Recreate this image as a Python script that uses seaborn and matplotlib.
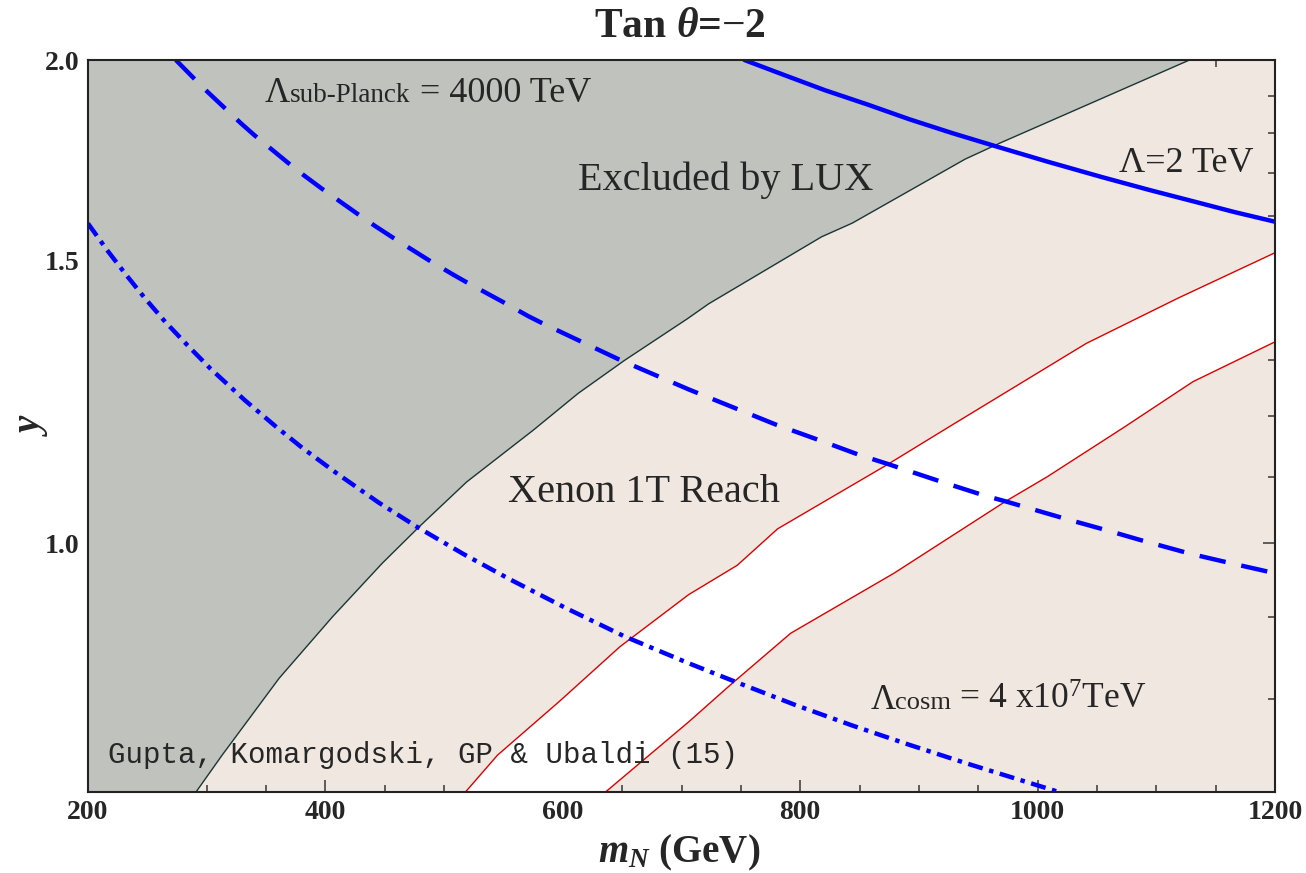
import numpy as np
import pandas as pd
import matplotlib
matplotlib.use("Agg")
import matplotlib.pyplot as plt
import seaborn as sns
from matplotlib.ticker import FixedLocator, NullFormatter, FixedFormatter, MultipleLocator
from matplotlib.offsetbox import TextArea, HPacker, AnnotationBbox

# ---------------- data ----------------
lux_m = [291, 313, 361, 406, 448, 479, 519, 575, 613, 652, 705, 723, 818, 844, 939, 968, 1128]
lux_y = [0.70, 0.738, 0.824, 0.90, 0.972, 1.024, 1.092, 1.176, 1.24, 1.30, 1.38, 1.41, 1.552, 1.583, 1.735, 1.775, 2.0]

xe_up_m = [518, 545, 597, 648, 706, 747, 781, 873, 928, 1041, 1118, 1200]
xe_up_y = [0.70, 0.738, 0.797, 0.862, 0.929, 0.969, 1.021, 1.119, 1.185, 1.332, 1.421, 1.517]

xe_lo_m = [636, 706, 741, 792, 879, 973, 1008, 1072, 1131, 1200]
xe_lo_y = [0.70, 0.774, 0.816, 0.879, 0.958, 1.062, 1.10, 1.18, 1.261, 1.335]

lam2_m = [753, 786, 821, 857, 892, 928, 965, 1008, 1054, 1094, 1134, 1166, 1200]
lam2_y = [2.0, 1.958, 1.915, 1.876, 1.837, 1.801, 1.767, 1.729, 1.691, 1.660, 1.631, 1.608, 1.586]

planck_m = [274, 297, 329, 340, 368, 381, 397, 427, 442, 457, 487, 507, 519, 550, 571, 582,
            615, 648, 681, 706, 779, 818, 850, 873, 921, 955, 973, 1025, 1060, 1086, 1129, 1165, 1200]
planck_y = [2.0, 1.922, 1.826, 1.796, 1.727, 1.697, 1.663, 1.604, 1.576, 1.550, 1.501, 1.471, 1.454,
            1.413, 1.385, 1.372, 1.336, 1.301, 1.270, 1.247, 1.186, 1.158, 1.135, 1.121, 1.091, 1.071,
            1.062, 1.035, 1.018, 1.005, 0.985, 0.971, 0.958]

cosm_m = [200, 216, 232, 248, 265, 284, 303, 332, 359, 381, 410, 445, 477, 516, 555, 603, 652,
          706, 747, 796, 844, 892, 941, 1018]
cosm_y = [1.582, 1.523, 1.470, 1.421, 1.374, 1.328, 1.285, 1.228, 1.181, 1.146, 1.105, 1.060, 1.024,
          0.985, 0.950, 0.911, 0.875, 0.842, 0.819, 0.793, 0.770, 0.749, 0.729, 0.70]

x_major = [200, 400, 600, 800, 1000, 1200]
y_major = [1.0, 1.5, 2.0]
y_major_labels = ["1.0", "1.5", "2.0"]
y_minor = [0.7, 0.8, 0.9, 1.1, 1.2, 1.3, 1.4, 1.6, 1.7, 1.8, 1.9]

# ---------------- style ----------------
sns.set_style("ticks")
plt.rcParams["font.family"] = ["Liberation Serif", "DejaVu Serif"]
plt.rcParams["mathtext.fontset"] = "custom"
plt.rcParams["mathtext.rm"] = "Liberation Serif"
plt.rcParams["mathtext.it"] = "Liberation Serif:italic:bold"
plt.rcParams["mathtext.bf"] = "Liberation Serif:bold"

GRAY = "#c0c2bd"
BEIGE = "#f0e7e1"
BLUE = "#0000ff"
RED = "#dd0000"
LUXC = "#1a3535"
SERIF = ["Liberation Serif", "DejaVu Serif"]

W, H = 1306, 873
fig = plt.figure(figsize=(W / 100, H / 100), dpi=100)
ax = fig.add_axes([88 / W, 1 - 792 / H, (1275 - 88) / W, (792 - 60) / H])
ax.set_facecolor(BEIGE)
ax.set_yscale("log")
ax.set_xlim(200, 1200)
ax.set_ylim(0.7, 2.0)

# gray LUX excluded region
ax.fill([200] + lux_m + [200], [0.7] + lux_y + [2.0], color=GRAY, lw=0, zorder=1)
# white band between the Xenon lines
ax.fill(xe_up_m + xe_lo_m[::-1], xe_up_y + xe_lo_y[::-1], color="white", lw=0, zorder=1)

def line(mx, yy, **kw):
    df = pd.DataFrame({"m": mx, "y": yy})
    n0 = len(ax.lines)
    sns.lineplot(data=df, x="m", y="y", ax=ax, sort=False, estimator=None, **kw)
    return ax.lines[n0]

line(lux_m, lux_y, color=LUXC, lw=1.0, zorder=2)
line(xe_up_m, xe_up_y, color=RED, lw=1.0, zorder=2)
line(xe_lo_m, xe_lo_y, color=RED, lw=1.0, zorder=2)
l = line(lam2_m, lam2_y, color=BLUE, lw=3.2, zorder=3)
l.set_solid_joinstyle("round")
l = line(planck_m, planck_y, color=BLUE, lw=3.2, zorder=3)
l.set_dashes((6, 3.6))
l = line(cosm_m, cosm_y, color=BLUE, lw=3.2, zorder=3)
l.set_dashes((3.4, 1.5, 1.0, 1.5))

# ---------------- axes / ticks ----------------
ax.xaxis.set_major_locator(FixedLocator(x_major))
ax.xaxis.set_minor_locator(MultipleLocator(50))
ax.yaxis.set_major_locator(FixedLocator(y_major))
ax.yaxis.set_major_formatter(FixedFormatter(y_major_labels))
ax.yaxis.set_minor_locator(FixedLocator(y_minor))
ax.yaxis.set_minor_formatter(NullFormatter())
ax.tick_params(which="both", direction="in", top=True, right=True, color="#444444", width=1.2)
ax.tick_params(which="major", length=9, labelsize=20, pad=6)
ax.tick_params(which="minor", length=5)
for lab in ax.get_xticklabels() + ax.get_yticklabels():
    lab.set_fontweight("bold")
for sp in ax.spines.values():
    sp.set_color("#222222")
    sp.set_linewidth(1.5)
    sp.set_zorder(5)
ax.set_xlabel("")
ax.set_ylabel("")

fig.text(680 / W, 1 - 37 / H, r"Tan $\theta$=$-$2", fontsize=30, fontweight="bold",
         ha="center", va="baseline")
fig.text(679 / W, 1 - 862 / H, "$m_N$ (GeV)", fontsize=28, fontweight="bold",
         ha="center", va="baseline")
fig.text(32 / W, 1 - 424 / H, "$y$", fontsize=28, fontweight="bold", rotation=90,
         ha="center", va="center")

# ---------------- annotations ----------------
ax.text(737, 1.660, "Excluded by LUX", fontsize=29, ha="center", va="baseline", zorder=6)
ax.text(668, 1.0615, "Xenon 1T Reach", fontsize=29, ha="center", va="baseline", zorder=6)
ax.text(1125, 1.704, "Λ=2 TeV", fontsize=26, ha="center", va="baseline", zorder=6)
ax.text(216.8, 0.7297, "Gupta, Komargodski, GP & Ubaldi (15)", fontsize=21,
        family=["Liberation Mono", "DejaVu Sans Mono"], ha="left", va="baseline", zorder=6)

def packed(parts, xy):
    boxes = [TextArea(t, textprops=dict(fontsize=s, family=SERIF)) for t, s in parts]
    pk = HPacker(children=boxes, align="baseline", pad=0, sep=0)
    ab = AnnotationBbox(pk, xy, xycoords="data", frameon=False, box_alignment=(0, 0),
                        pad=0, zorder=6)
    ax.add_artist(ab)

packed([("Λ", 25), ("sub-Planck", 19.5), (" = 4000 TeV", 26)], (349, 1.862))
packed([("Λ", 25), ("cosm", 19), (" = 4 x10$^{7}$TeV", 25.5)], (859, 0.7798))

fig.savefig("out.png", dpi=100)
